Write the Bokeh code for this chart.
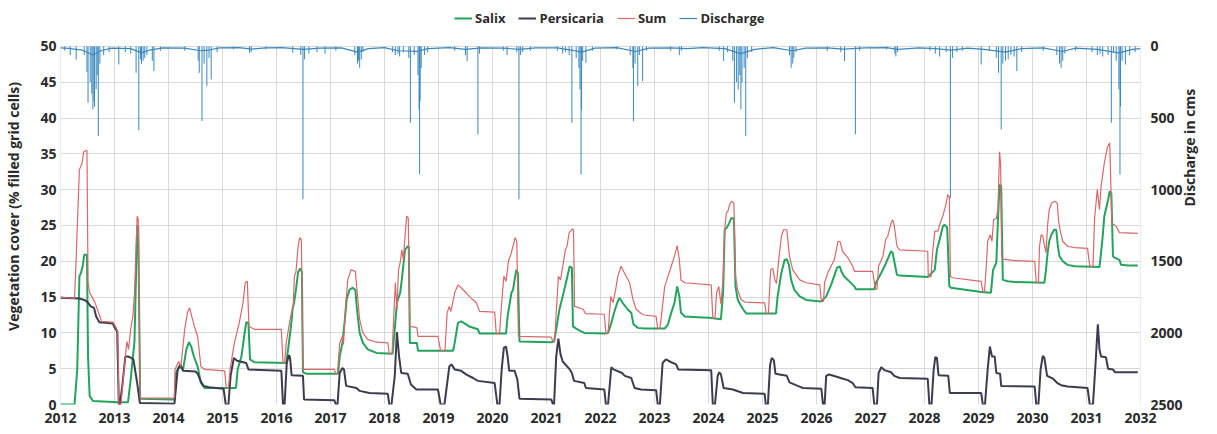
import math
from bokeh.plotting import figure
from bokeh.models import Range1d, LinearAxis, FixedTicker, Legend, LegendItem
from bokeh.embed import file_html
from bokeh.resources import INLINE

years = list(range(2012, 2033))
veg_ticks = list(range(0, 51, 5))
dis_ticks = [0, 500, 1000, 1500, 2000, 2500]

salix_t = [2012.00, 2012.26, 2012.31, 2012.35, 2012.38, 2012.41, 2012.44, 2012.49, 2012.51, 2012.54, 2012.60, 2013.06,
           2013.25, 2013.30, 2013.33, 2013.37, 2013.42, 2013.44, 2013.475, 2014.11, 2014.14, 2014.20, 2014.27, 2014.33,
           2014.38, 2014.42, 2014.47, 2014.54, 2014.60, 2014.67, 2015.25, 2015.28, 2015.35, 2015.41, 2015.44, 2015.48,
           2015.51, 2015.59, 2016.18, 2016.22, 2016.27, 2016.30, 2016.32, 2016.36, 2016.40, 2016.44, 2016.47, 2016.49,
           2016.55, 2017.14, 2017.17, 2017.22, 2017.26, 2017.30, 2017.35, 2017.41, 2017.46, 2017.49, 2017.54, 2017.60,
           2017.69, 2017.85, 2018.15, 2018.20, 2018.23, 2018.29, 2018.32, 2018.38, 2018.43, 2018.45, 2018.47, 2018.60,
           2018.62, 2019.27, 2019.30, 2019.36, 2019.42, 2019.51, 2019.57, 2019.73, 2019.76, 2020.25, 2020.28, 2020.35,
           2020.38, 2020.44, 2020.47, 2020.50, 2021.09, 2021.14, 2021.18, 2021.24, 2021.30, 2021.36, 2021.43, 2021.47,
           2021.49, 2021.55, 2021.64, 2021.70, 2022.10, 2022.14, 2022.20, 2022.27, 2022.32, 2022.35, 2022.41, 2022.50,
           2022.57, 2022.61, 2022.69, 2022.81, 2023.19, 2023.25, 2023.31, 2023.37, 2023.42, 2023.46, 2023.49, 2023.56,
           2023.80, 2024.02, 2024.23, 2024.27, 2024.30, 2024.34, 2024.38, 2024.42, 2024.47, 2024.50, 2024.54, 2024.57,
           2024.64, 2024.70, 2025.25, 2025.28, 2025.35, 2025.41, 2025.45, 2025.49, 2025.53, 2025.59, 2025.69, 2025.81,
           2026.09, 2026.18, 2026.27, 2026.33, 2026.38, 2026.43, 2026.46, 2026.51, 2026.58, 2026.70, 2026.73, 2027.07,
           2027.10, 2027.20, 2027.26, 2027.38, 2027.41, 2027.44, 2027.49, 2027.54, 2028.06, 2028.19, 2028.23, 2028.28,
           2028.34, 2028.37, 2028.42, 2028.46, 2028.49, 2029.05, 2029.23, 2029.27, 2029.30, 2029.33, 2029.36, 2029.39,
           2029.42, 2029.45, 2029.54, 2029.67, 2030.22, 2030.25, 2030.28, 2030.31, 2030.35, 2030.40, 2030.44, 2030.47,
           2030.50, 2030.56, 2030.65, 2030.78, 2031.24, 2031.27, 2031.30, 2031.33, 2031.40, 2031.43, 2031.46, 2031.49,
           2031.52, 2031.61, 2031.64, 2031.77, 2031.95]
salix_v = [0, 0, 4.9, 17.9, 18.4, 19.3, 20.9, 20.9, 6.7, 1.2, 0.5, 0.3,
           0.3, 3.5, 5.8, 8.8, 24.9, 24.9, 0.8, 0.7, 4.4, 5.3, 4.9, 7.7,
           8.7, 8.1, 6.7, 5.3, 3.0, 2.3, 2.3, 4.9, 6.7, 10.0, 11.5, 11.4,
           6.3, 5.9, 5.8, 8.0, 11.0, 13.5, 14.0, 16.0, 18.5, 19.0, 18.5, 4.5,
           4.3, 4.3, 6.7, 8.6, 11.4, 14.7, 16.0, 16.3, 16.0, 13.3, 10.0, 8.6,
           7.7, 7.2, 7.1, 11.4, 14.2, 15.6, 17.4, 21.6, 22.1, 22.1, 8.6, 8.6,
           7.5, 7.5, 8.6, 11.4, 11.6, 11.2, 10.9, 10.5, 9.9, 9.9, 12.3, 15.6,
           16.0, 18.8, 18.4, 8.8, 8.7, 8.8, 10.5, 13.3, 15.1, 17.0, 19.3, 19.1,
           10.9, 10.6, 10.2, 10.0, 9.9, 10.0, 11.4, 13.3, 14.4, 14.9, 14.2, 13.3,
           12.8, 11.2, 10.7, 10.6, 10.6, 11.2, 12.8, 14.2, 16.5, 15.1, 12.8, 12.3,
           12.2, 12.1, 11.9, 15.6, 24.4, 24.7, 25.3, 26.0, 26.0, 16.5, 14.7, 14.2,
           13.3, 12.7, 12.7, 15.1, 18.4, 20.2, 20.3, 19.5, 17.4, 16.0, 15.1, 14.6,
           14.4, 15.1, 16.7, 18.0, 19.1, 19.3, 18.6, 17.9, 17.4, 16.5, 16.1, 16.1,
           17.0, 18.4, 19.3, 21.4, 21.2, 20.0, 18.1, 18.0, 17.8, 18.8, 21.6, 23.0,
           24.9, 25.1, 24.7, 16.5, 16.3, 15.7, 15.6, 18.8, 19.3, 19.8, 25.8, 30.7,
           30.5, 17.4, 17.2, 17.1, 17.0, 18.8, 21.2, 22.8, 23.7, 24.4, 24.4, 22.1,
           20.7, 20.0, 19.5, 19.3, 19.2, 21.2, 23.5, 26.3, 28.6, 29.8, 29.5, 20.7,
           20.5, 20.2, 19.5, 19.4, 19.4]

persicaria_t = [2012.00, 2012.35, 2012.44, 2012.50, 2012.56, 2012.62, 2012.66, 2012.72, 2012.97, 2013.00, 2013.05, 2013.08,
                2013.10, 2013.15, 2013.20, 2013.25, 2013.31, 2013.35, 2013.42, 2013.47, 2014.11, 2014.17, 2014.22, 2014.27,
                2014.50, 2014.54, 2014.60, 2014.65, 2014.75, 2015.02, 2015.06, 2015.11, 2015.15, 2015.21, 2015.27, 2015.44,
                2015.48, 2016.09, 2016.12, 2016.15, 2016.19, 2016.23, 2016.25, 2016.28, 2016.49, 2016.51, 2017.07, 2017.10,
                2017.13, 2017.17, 2017.22, 2017.25, 2017.29, 2017.48, 2017.54, 2017.72, 2018.06, 2018.09, 2018.13, 2018.19,
                2018.23, 2018.27, 2018.31, 2018.43, 2018.49, 2018.59, 2018.99, 2019.04, 2019.11, 2019.20, 2019.24, 2019.30,
                2019.42, 2019.51, 2019.64, 2019.73, 2020.04, 2020.09, 2020.13, 2020.17, 2020.21, 2020.25, 2020.28, 2020.31,
                2020.41, 2020.46, 2020.50, 2021.09, 2021.12, 2021.14, 2021.18, 2021.22, 2021.26, 2021.30, 2021.43, 2021.47,
                2021.51, 2021.70, 2021.73, 2022.07, 2022.10, 2022.14, 2022.20, 2022.24, 2022.40, 2022.45, 2022.57, 2022.63,
                2022.75, 2023.03, 2023.06, 2023.10, 2023.15, 2023.21, 2023.31, 2023.40, 2023.44, 2024.05, 2024.08, 2024.12,
                2024.17, 2024.20, 2024.23, 2024.28, 2024.45, 2024.64, 2025.04, 2025.06, 2025.10, 2025.14, 2025.17, 2025.21,
                2025.24, 2025.45, 2025.50, 2025.65, 2025.75, 2026.09, 2026.12, 2026.15, 2026.18, 2026.23, 2026.36, 2026.49,
                2026.58, 2026.67, 2026.72, 2027.04, 2027.07, 2027.12, 2027.15, 2027.20, 2027.26, 2027.38, 2027.44, 2027.54,
                2028.06, 2028.09, 2028.13, 2028.17, 2028.20, 2028.23, 2028.26, 2028.44, 2028.47, 2029.05, 2029.08, 2029.12,
                2029.17, 2029.21, 2029.25, 2029.30, 2029.33, 2029.40, 2029.42, 2030.04, 2030.07, 2030.11, 2030.15, 2030.19,
                2030.22, 2030.27, 2030.38, 2030.46, 2030.53, 2030.65, 2031.02, 2031.06, 2031.12, 2031.17, 2031.21, 2031.24,
                2031.27, 2031.36, 2031.40, 2031.49, 2031.53, 2031.95]
persicaria_v = [14.9, 14.8, 14.6, 14.3, 13.7, 13.5, 12.3, 11.5, 11.3, 10.8, 10.2, 0,
                0, 3.0, 6.7, 6.7, 6.5, 6.3, 3.0, 0.2, 0.1, 4.9, 5.6, 4.7,
                4.6, 4.3, 3.2, 2.6, 2.4, 2.2, 0, 0, 4.0, 6.5, 6.1, 5.8,
                4.9, 4.7, 0, 0, 5.8, 6.9, 6.6, 4.1, 4.0, 0.7, 0.6, 0,
                0, 4.4, 5.1, 4.9, 2.6, 2.3, 1.9, 1.6, 1.5, 0, 0, 4.0,
                10.1, 6.7, 4.4, 4.3, 2.8, 2.1, 2.1, 0, 0, 5.3, 5.6, 4.9,
                4.7, 4.2, 3.7, 3.3, 3.0, 0, 0, 4.9, 7.9, 8.1, 6.7, 4.7,
                4.7, 3.5, 0.8, 0.7, 0, 0, 6.7, 9.2, 7.0, 6.0, 4.9, 4.4,
                3.3, 3.0, 2.3, 2.1, 0, 0, 5.2, 4.9, 4.4, 4.0, 3.7, 2.3,
                2.1, 2.0, 0, 0, 5.8, 6.3, 5.9, 5.6, 4.9, 4.8, 0, 0,
                4.0, 4.5, 4.2, 2.3, 2.1, 1.6, 1.5, 0, 0, 5.5, 6.5, 6.2,
                4.3, 4.0, 3.1, 2.6, 2.3, 2.2, 0, 0, 4.0, 4.2, 3.9, 3.6,
                3.4, 3.0, 2.4, 2.3, 0, 0, 4.4, 5.2, 4.8, 4.5, 4.0, 3.7,
                3.6, 0, 0, 4.9, 6.6, 6.5, 4.1, 4.0, 1.6, 1.6, 0, 0,
                4.9, 8.1, 6.7, 6.7, 4.4, 4.3, 2.6, 2.5, 0, 0, 4.9, 6.8,
                6.5, 4.0, 3.6, 3.0, 2.7, 2.5, 2.3, 0, 0, 6.0, 11.2, 7.7,
                6.7, 6.6, 5.0, 4.9, 4.5, 4.5]

sum_t = [2012.00, 2012.26, 2012.28, 2012.35, 2012.40, 2012.43, 2012.49, 2012.51, 2012.54, 2012.63, 2012.72, 2012.76,
         2012.97, 2013.02, 2013.06, 2013.08, 2013.12, 2013.20, 2013.23, 2013.26, 2013.30, 2013.34, 2013.37, 2013.42,
         2013.44, 2013.475, 2014.11, 2014.12, 2014.19, 2014.23, 2014.30, 2014.35, 2014.39, 2014.43, 2014.48, 2014.54,
         2014.60, 2014.67, 2015.04, 2015.07, 2015.11, 2015.14, 2015.22, 2015.31, 2015.38, 2015.42, 2015.46, 2015.49,
         2015.59, 2016.09, 2016.12, 2016.15, 2016.18, 2016.23, 2016.27, 2016.31, 2016.33, 2016.36, 2016.40, 2016.43,
         2016.46, 2016.49, 2017.07, 2017.10, 2017.13, 2017.17, 2017.22, 2017.24, 2017.28, 2017.32, 2017.38, 2017.46,
         2017.49, 2017.54, 2017.60, 2017.69, 2017.85, 2018.06, 2018.09, 2018.14, 2018.20, 2018.23, 2018.26, 2018.29,
         2018.32, 2018.35, 2018.38, 2018.41, 2018.44, 2018.47, 2018.56, 2018.60, 2018.62, 2018.99, 2019.04, 2019.12,
         2019.16, 2019.20, 2019.23, 2019.30, 2019.36, 2019.42, 2019.51, 2019.57, 2019.70, 2019.76, 2020.04, 2020.07,
         2020.13, 2020.17, 2020.21, 2020.25, 2020.30, 2020.33, 2020.38, 2020.42, 2020.45, 2020.48, 2021.09, 2021.12,
         2021.15, 2021.22, 2021.26, 2021.35, 2021.38, 2021.42, 2021.48, 2021.50, 2021.52, 2021.68, 2021.72, 2022.07,
         2022.10, 2022.14, 2022.19, 2022.23, 2022.28, 2022.32, 2022.38, 2022.44, 2022.54, 2022.60, 2022.66, 2022.75,
         2022.81, 2023.03, 2023.06, 2023.10, 2023.19, 2023.25, 2023.31, 2023.37, 2023.42, 2023.46, 2023.49, 2023.56,
         2024.05, 2024.08, 2024.12, 2024.15, 2024.19, 2024.23, 2024.27, 2024.30, 2024.33, 2024.36, 2024.39, 2024.43,
         2024.47, 2024.50, 2024.54, 2024.60, 2024.67, 2025.04, 2025.07, 2025.11, 2025.15, 2025.19, 2025.23, 2025.26,
         2025.30, 2025.35, 2025.39, 2025.45, 2025.50, 2025.56, 2025.69, 2025.81, 2026.06, 2026.09, 2026.13, 2026.15,
         2026.21, 2026.33, 2026.36, 2026.40, 2026.44, 2026.48, 2026.58, 2026.67, 2026.70, 2027.04, 2027.09, 2027.12,
         2027.15, 2027.23, 2027.28, 2027.32, 2027.38, 2027.41, 2027.44, 2027.49, 2027.54, 2028.06, 2028.07, 2028.12,
         2028.15, 2028.19, 2028.25, 2028.28, 2028.31, 2028.34, 2028.40, 2028.43, 2028.46, 2028.48, 2028.52, 2029.05,
         2029.08, 2029.11, 2029.14, 2029.17, 2029.22, 2029.25, 2029.28, 2029.33, 2029.36, 2029.39, 2029.41, 2029.43,
         2029.45, 2029.67, 2030.04, 2030.07, 2030.11, 2030.13, 2030.16, 2030.19, 2030.22, 2030.25, 2030.28, 2030.31,
         2030.35, 2030.41, 2030.46, 2030.48, 2030.51, 2030.56, 2030.65, 2030.78, 2031.02, 2031.06, 2031.12, 2031.15,
         2031.20, 2031.24, 2031.27, 2031.33, 2031.39, 2031.43, 2031.47, 2031.55, 2031.61, 2031.95]
sum_v = [15.0, 14.8, 18.4, 32.8, 33.7, 35.3, 35.5, 17.0, 15.6, 14.4, 12.5, 11.6,
         11.5, 10.9, 10.2, 0, 0, 6.7, 8.8, 7.7, 10.5, 12.3, 15.6, 26.3,
         25.8, 0.9, 0.9, 4.9, 6.0, 5.3, 10.5, 12.8, 13.5, 12.3, 10.9, 9.5,
         5.3, 4.9, 4.7, 2.3, 2.3, 4.9, 8.6, 11.4, 14.2, 17.0, 17.2, 10.9,
         10.5, 10.5, 5.8, 5.8, 8.6, 10.9, 12.6, 13.7, 17.9, 18.5, 22.1, 23.3,
         23.0, 4.9, 4.9, 4.3, 4.3, 8.6, 9.5, 8.4, 13.7, 17.4, 18.8, 18.6,
         16.0, 11.9, 10.0, 9.1, 8.7, 8.6, 7.1, 7.1, 17.0, 13.3, 18.8, 19.8,
         21.6, 20.2, 23.5, 26.3, 26.0, 10.9, 10.8, 10.7, 9.5, 9.5, 7.5, 7.5,
         12.8, 13.7, 13.0, 15.6, 16.7, 16.3, 15.6, 15.1, 14.2, 13.0, 12.9, 9.9,
         9.9, 14.2, 17.9, 17.2, 20.2, 20.7, 22.1, 23.3, 22.8, 9.5, 9.4, 8.7,
         8.8, 17.9, 17.4, 21.6, 22.1, 24.0, 24.5, 24.4, 13.7, 13.3, 12.7, 12.6,
         9.9, 10.0, 15.1, 14.2, 16.0, 17.9, 19.3, 18.4, 17.0, 14.7, 13.3, 12.7,
         12.5, 12.3, 10.6, 10.6, 16.5, 17.9, 19.3, 20.7, 22.2, 20.2, 17.4, 17.0,
         16.7, 12.1, 12.0, 15.6, 16.5, 14.0, 17.5, 24.4, 26.7, 27.0, 27.9, 28.4,
         28.1, 17.9, 16.0, 14.7, 14.3, 14.2, 12.7, 12.7, 18.8, 19.0, 17.4, 16.9,
         20.2, 23.5, 24.4, 24.4, 20.7, 18.8, 17.4, 17.0, 16.7, 14.4, 14.4, 17.0,
         18.4, 20.2, 21.4, 22.8, 22.7, 21.4, 20.5, 19.3, 18.6, 18.6, 16.1, 16.1,
         19.3, 20.7, 23.0, 23.5, 25.3, 25.8, 25.0, 22.1, 21.6, 21.4, 17.9, 17.8,
         21.2, 24.2, 24.2, 25.1, 25.8, 26.3, 28.1, 29.3, 29.0, 17.9, 17.7, 17.2,
         15.8, 15.7, 18.8, 22.8, 23.7, 22.8, 25.8, 26.0, 27.2, 35.3, 33.5, 20.7,
         20.3, 20.1, 20.0, 17.0, 17.0, 22.1, 23.7, 23.5, 22.3, 21.2, 25.1, 27.2,
         28.1, 28.4, 28.1, 25.8, 24.4, 22.8, 22.1, 21.9, 21.8, 19.3, 19.3, 26.0,
         30.0, 27.2, 30.5, 33.7, 36.0, 36.5, 25.3, 24.9, 24.0, 23.9]

# discharge peaks (cms)
dis_t = [2012.08, 2012.18, 2012.29, 2012.44, 2012.49, 2012.51, 2012.55, 2012.58, 2012.60, 2012.62, 2012.63, 2012.66,
         2012.68, 2012.70, 2012.73, 2012.80, 2012.90, 2013.08, 2013.20, 2013.30, 2013.40, 2013.45, 2013.48, 2013.50,
         2013.53, 2013.56, 2013.60, 2013.70, 2013.73, 2013.85, 2014.30, 2014.55, 2014.57, 2014.62, 2014.66, 2014.71,
         2014.75, 2014.79, 2014.90, 2015.20, 2015.50, 2015.53, 2015.80, 2016.30, 2016.45, 2016.49, 2016.52, 2016.60,
         2016.75, 2016.90, 2017.10, 2017.45, 2017.50, 2017.52, 2017.54, 2017.57, 2017.60, 2018.15, 2018.20, 2018.25,
         2018.28, 2018.35, 2018.45, 2018.48, 2018.55, 2018.62, 2018.64, 2018.65, 2018.66, 2018.68, 2018.74, 2018.80,
         2019.30, 2019.50, 2019.53, 2019.73, 2019.76, 2020.20, 2020.27, 2020.45, 2020.49, 2020.52, 2020.56, 2020.70,
         2021.20, 2021.30, 2021.35, 2021.42, 2021.47, 2021.55, 2021.60, 2021.62, 2021.64, 2021.65, 2021.67, 2021.73,
         2021.85, 2022.30, 2022.55, 2022.60, 2022.61, 2022.64, 2022.69, 2022.72, 2022.78, 2022.85, 2023.30, 2023.46,
         2023.50, 2024.20, 2024.28, 2024.35, 2024.45, 2024.48, 2024.52, 2024.55, 2024.58, 2024.60, 2024.62, 2024.66,
         2024.69, 2024.72, 2024.80, 2025.50, 2025.53, 2025.56, 2025.58, 2025.62, 2026.20, 2026.45, 2026.52, 2026.72,
         2026.80, 2027.30, 2027.45, 2027.47, 2027.50, 2028.10, 2028.20, 2028.28, 2028.40, 2028.48, 2028.52, 2028.60,
         2028.70, 2029.05, 2029.20, 2029.33, 2029.37, 2029.42, 2029.45, 2029.50, 2029.55, 2029.60, 2029.66, 2029.71,
         2029.80, 2030.20, 2030.45, 2030.50, 2030.53, 2030.56, 2030.60, 2030.80, 2031.10, 2031.20, 2031.25, 2031.30,
         2031.40, 2031.46, 2031.50, 2031.55, 2031.60, 2031.62, 2031.63, 2031.66, 2031.72, 2031.80, 2031.90]
dis_peak = [30, 60, 91, 60, 180, 393, 250, 330, 440, 380, 420, 300,
            200, 626, 120, 60, 40, 126, 40, 50, 184, 584, 90, 120,
            100, 80, 60, 100, 172, 30, 30, 100, 184, 521, 120, 277,
            80, 230, 40, 20, 44, 40, 20, 44, 60, 1068, 90, 50,
            40, 50, 30, 60, 120, 100, 149, 90, 40, 40, 60, 50,
            70, 40, 80, 533, 60, 200, 440, 894, 380, 150, 60, 40,
            30, 60, 102, 614, 50, 30, 60, 40, 1068, 60, 40, 30,
            30, 50, 40, 60, 533, 80, 150, 300, 894, 440, 100, 114,
            30, 20, 60, 150, 521, 120, 277, 60, 242, 30, 30, 60,
            30, 30, 102, 40, 100, 393, 250, 300, 200, 440, 250, 150,
            626, 80, 40, 60, 149, 120, 80, 40, 30, 40, 102, 614,
            30, 20, 50, 70, 40, 30, 50, 70, 40, 1060, 80, 40,
            30, 126, 30, 80, 184, 580, 120, 100, 90, 60, 70, 172,
            40, 30, 60, 120, 149, 100, 50, 30, 40, 60, 50, 70,
            60, 533, 40, 100, 300, 894, 420, 100, 126, 60, 40]

base_t = [2012.0, 2012.15, 2012.4, 2012.6, 2012.75, 2012.95, 2013.3, 2013.5, 2013.65, 2013.9, 2014.3, 2014.6, 2014.75,
          2014.95, 2015.3, 2015.55, 2015.8, 2016.1, 2016.5, 2016.8, 2017.2, 2017.5, 2017.7, 2018.0, 2018.25, 2018.6,
          2018.8, 2019.2, 2019.5, 2019.8, 2020.2, 2020.5, 2020.8, 2021.2, 2021.45, 2021.65, 2021.9, 2022.3, 2022.65,
          2022.9, 2023.3, 2023.6, 2023.9, 2024.3, 2024.6, 2024.85, 2025.2, 2025.55, 2025.8, 2026.2, 2026.5, 2026.9,
          2027.3, 2027.5, 2027.9, 2028.2, 2028.5, 2028.8, 2029.1, 2029.5, 2029.8, 2030.2, 2030.55, 2030.8, 2031.2,
          2031.6, 2031.85, 2032.0]
base_v = [10, 14, 25, 60, 30, 12, 15, 45, 25, 10, 12, 30, 25,
          10, 8, 18, 10, 8, 20, 12, 10, 40, 15, 8, 30, 35,
          15, 8, 20, 10, 12, 20, 10, 10, 25, 40, 12, 8, 35,
          12, 10, 15, 8, 15, 50, 20, 8, 30, 12, 10, 18, 10,
          8, 20, 10, 15, 25, 12, 20, 40, 15, 10, 35, 12, 20,
          45, 20, 15]

FONT = "Open Sans"
TXT = "#2B2B2B"

# frame extends above the 50 line so that the legend has room inside it
Y_TOP = 55.3
p = figure(width=1216, height=431, output_backend="svg", toolbar_location=None,
           x_range=Range1d(2012, 2032), y_range=Range1d(0, Y_TOP),
           min_border_left=60, min_border_right=76, min_border_top=8, min_border_bottom=27)
p.extra_y_ranges = {"dis": Range1d(start=2500, end=(50 - Y_TOP) * 50)}
p.outline_line_color = None
p.background_fill_color = "white"

# grid
p.xgrid.visible = False
p.ygrid.ticker = FixedTicker(ticks=veg_ticks)
p.ygrid.grid_line_color = "#D9D9D9"
p.ygrid.grid_line_width = 1
p.segment(x0=years, y0=0, x1=years, y1=50, line_color="#D9D9D9", line_width=1)


def style_axis(ax):
    ax.axis_line_color = None
    ax.major_tick_line_color = None
    ax.minor_tick_line_color = None
    ax.major_tick_out = 0
    ax.major_tick_in = 0
    ax.minor_tick_out = 0
    ax.minor_tick_in = 0
    ax.major_label_text_font = FONT
    ax.major_label_text_font_style = "bold"
    ax.major_label_text_font_size = "14px"
    ax.major_label_text_color = TXT
    ax.axis_label_text_font = FONT
    ax.axis_label_text_font_style = "bold"
    ax.axis_label_text_font_size = "14px"
    ax.axis_label_text_color = TXT


style_axis(p.xaxis[0])
style_axis(p.yaxis[0])
p.xaxis.ticker = FixedTicker(ticks=years)
p.xaxis.major_label_standoff = 8
p.yaxis.ticker = FixedTicker(ticks=veg_ticks)
p.yaxis.axis_label = "Vegetation cover (% filled grid cells)"
p.yaxis.major_label_standoff = 4
p.yaxis.axis_label_standoff = 14

rax = LinearAxis(y_range_name="dis", ticker=FixedTicker(ticks=dis_ticks), axis_label="Discharge in cms")
style_axis(rax)
rax.major_label_standoff = 10
rax.axis_label_standoff = 4
rax.axis_label_orientation = math.pi / 2
p.add_layout(rax, "right")

# discharge
DIS = "#3A88BE"
p.segment(x0=dis_t, y0=0, x1=dis_t, y1=dis_peak, y_range_name="dis", line_color=DIS, line_width=1)
r_dis = p.line(base_t, base_v, y_range_name="dis", line_color=DIS, line_width=1.2)

r_salix = p.line(salix_t, salix_v, line_color="#22A45D", line_width=2)
r_pers = p.line(persicaria_t, persicaria_v, line_color="#3C3C50", line_width=2)
r_sum = p.line(sum_t, sum_v, line_color="#D9686B", line_width=1.2)

legend = Legend(items=[LegendItem(label="Salix", renderers=[r_salix]),
                       LegendItem(label="Persicaria", renderers=[r_pers]),
                       LegendItem(label="Sum", renderers=[r_sum]),
                       LegendItem(label="Discharge", renderers=[r_dis])],
                orientation="horizontal", location=(394, 377),
                label_text_font=FONT, label_text_font_style="bold", label_text_font_size="13px",
                label_text_color=TXT, border_line_color=None, background_fill_alpha=0,
                glyph_width=18, glyph_height=16, label_height=16, label_standoff=3, spacing=13,
                padding=0, margin=0)
p.add_layout(legend, "center")

open("out.html", "w").write(file_html(p, INLINE))
